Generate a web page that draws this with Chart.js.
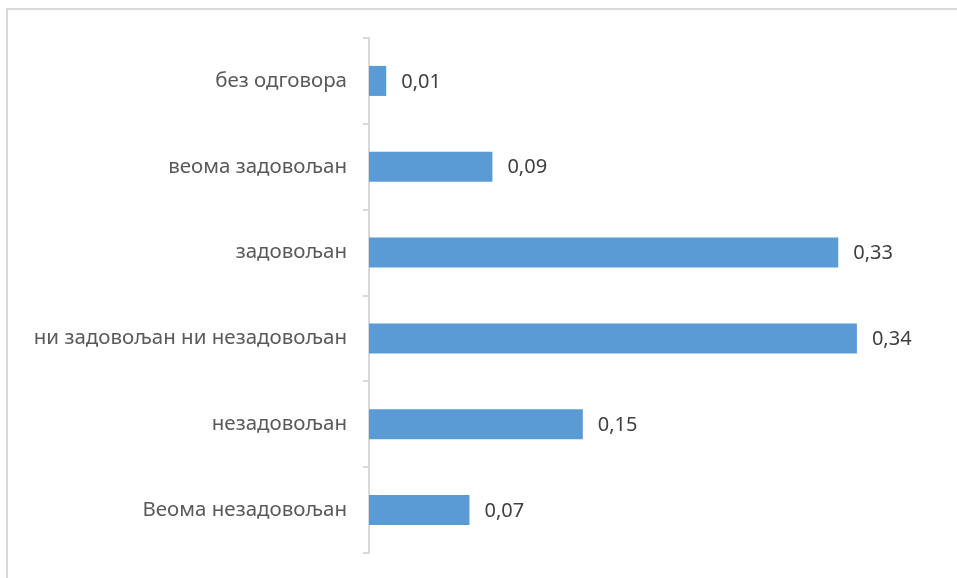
<!DOCTYPE html>
<html>
<head>
<meta charset="utf-8">
<script src="https://cdn.jsdelivr.net/npm/chart.js@4/dist/chart.umd.min.js"></script>
<style>
  html, body { margin: 0; padding: 0; background: #fff; }
  #wrap { width: 957px; height: 578px; position: relative; }
</style>
</head>
<body>
<div id="wrap"><canvas id="c" width="957" height="578"></canvas></div>
<script>
// categories top to bottom, as in the picture
const categories = ['без одговора', 'веома задовољан', 'задовољан', 'ни задовољан ни незадовољан', 'незадовољан', 'Веома незадовољан'];
const shares = [0.012, 0.086, 0.327, 0.34, 0.149, 0.07];
const xMax = 0.4;

const labelFont = '"Noto Sans", sans-serif';

// outer frame of the embedded chart
const framePlugin = {
    id: 'frame',
    beforeDraw(chart) {
        const ctx = chart.ctx;
        ctx.save();
        ctx.strokeStyle = '#d9d9d9';
        ctx.lineWidth = 2;
        ctx.strokeRect(7, 9, 1000, 1000);
        ctx.restore();
    }
};

// value labels next to each bar
const valueLabels = {
    id: 'valueLabels',
    afterDatasetsDraw(chart) {
        const ctx = chart.ctx;
        const meta = chart.getDatasetMeta(0);
        ctx.save();
        ctx.fillStyle = '#404040';
        ctx.font = '20px ' + labelFont;
        ctx.textAlign = 'left';
        ctx.textBaseline = 'middle';
        meta.data.forEach((bar, i) => {
            const txt = shares[i].toFixed(2).replace('.', ',');
            ctx.fillText(txt, bar.x + 15, bar.y + 1);
        });
        ctx.restore();
    }
};

new Chart(document.getElementById('c').getContext('2d'), {
    type: 'bar',
    data: {
        labels: categories,
        datasets: [{
            data: shares,
            backgroundColor: '#5b9bd5',
            borderWidth: 0,
            categoryPercentage: 1,
            barPercentage: 0.35
        }]
    },
    options: {
        indexAxis: 'y',
        responsive: false,
        animation: false,
        layout: { padding: { left: 0, top: 38, right: 14, bottom: 25 } },
        plugins: { legend: { display: false }, tooltip: { enabled: false } },
        scales: {
            x: { display: false, min: 0, max: xMax },
            y: {
                afterFit(scale) {
                    scale.width = 369;
                    scale.paddingTop = 0;
                    scale.paddingBottom = 0;
                },
                border: { color: '#d9d9d9', width: 2 },
                grid: { drawOnChartArea: false, drawTicks: true, tickLength: 6, color: '#d9d9d9', lineWidth: 2, offset: true },
                ticks: { color: '#595959', padding: 16, font: { family: labelFont, size: 20.5 } }
            }
        }
    },
    plugins: [framePlugin, valueLabels]
});
</script>
</body>
</html>
